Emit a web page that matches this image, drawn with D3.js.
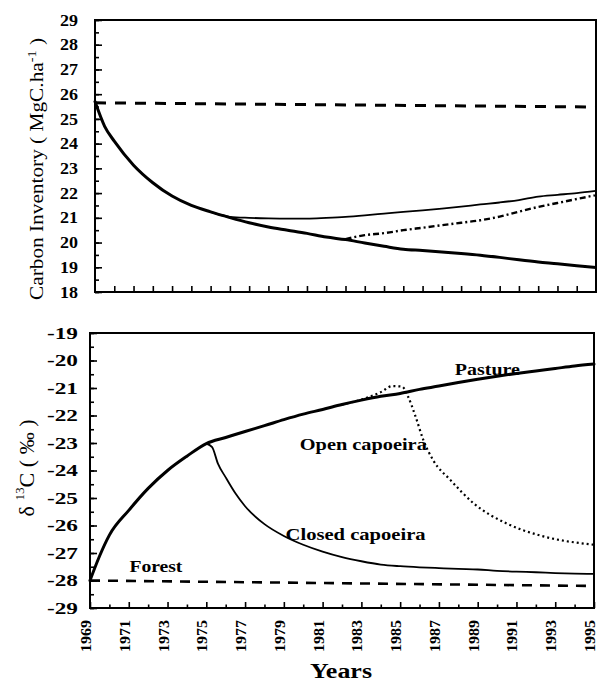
<!DOCTYPE html>
<html><head><meta charset="utf-8">
<script src="https://cdn.jsdelivr.net/npm/d3@7"></script>
<style>
body{margin:0;background:#fff}
svg{display:block}
text{font-family:"Liberation Serif","Times New Roman",serif;fill:#000}
</style>
</head><body>
<svg id="c" width="597" height="684"></svg>
<script>
// ---------- data ----------
const topPastureYears = [1969,1969.5,1970,1971,1972,1973,1974,1975,1976,1977,1978,1979,1980,1981,1982,1983,1984,1985,1986,1987,1988,1989,1990,1991,1992,1993,1994,1995];
const topPasture = [25.7,24.7,24.1,23.13,22.42,21.88,21.5,21.24,21.01,20.8,20.63,20.5,20.37,20.22,20.12,19.98,19.85,19.73,19.68,19.62,19.56,19.49,19.4,19.3,19.21,19.14,19.06,18.99];
const topClosedYears = [1975,1976,1977,1978,1979,1980,1981,1982,1983,1984,1985,1986,1987,1988,1989,1990,1991,1992,1993,1994,1995];
const topClosed = [21.24,21.04,21.0,20.98,20.97,20.97,21.0,21.04,21.1,21.17,21.24,21.3,21.37,21.45,21.54,21.62,21.72,21.86,21.93,22.0,22.09];
const topOpenYears = [1982,1983,1984,1985,1986,1987,1988,1989,1990,1991,1992,1993,1994,1995];
const topOpen = [20.14,20.3,20.38,20.5,20.6,20.7,20.8,20.9,21.05,21.25,21.44,21.6,21.76,21.92];
const topForestYears = [1969,1995];
const topForest = [25.65,25.48];

const botPastureYears = [1969,1969.5,1970,1971,1972,1973,1974,1975,1976,1977,1978,1979,1980,1981,1982,1983,1984,1985,1986,1987,1988,1989,1990,1991,1992,1993,1994,1995];
const botPasture = [-28.0,-27.1,-26.35,-25.45,-24.65,-24.0,-23.48,-23.02,-22.8,-22.58,-22.37,-22.15,-21.95,-21.78,-21.6,-21.44,-21.3,-21.2,-21.05,-20.93,-20.8,-20.68,-20.57,-20.47,-20.38,-20.29,-20.2,-20.13];
const botClosedYears = [1975,1975.3,1975.6,1976,1976.5,1977,1978,1979,1980,1981,1982,1983,1984,1985,1986,1987,1988,1989,1990,1991,1992,1993,1994,1995];
const botClosed = [-23.02,-23.15,-23.75,-24.25,-24.83,-25.3,-25.95,-26.38,-26.7,-26.95,-27.15,-27.3,-27.42,-27.48,-27.52,-27.55,-27.58,-27.6,-27.65,-27.68,-27.7,-27.73,-27.75,-27.76];
const botOpenYears = [1982,1983,1984,1984.6,1985.1,1985.4,1985.8,1986.2,1986.7,1987.6,1988.8,1990.5,1992.2,1995];
const botOpen = [-21.6,-21.42,-21.15,-20.93,-20.95,-21.3,-22.05,-22.9,-23.62,-24.35,-25.2,-25.93,-26.36,-26.7];
const botForestYears = [1969,1995];
const botForest = [-28.0,-28.2];

const topYTicks = [18,19,20,21,22,23,24,25,26,27,28,29];
const botYTicks = [-29,-28,-27,-26,-25,-24,-23,-22,-21,-20,-19];
const xTickLabels = [1969,1971,1973,1975,1977,1979,1981,1983,1985,1987,1989,1991,1993,1995];
const seriesLabels = [
  {text:"Pasture", year:1989.5, value:-20.52, w:65},
  {text:"Open capoeira", year:1983.1, value:-23.25, w:127},
  {text:"Closed capoeira", year:1982.7, value:-26.52, w:140},
  {text:"Forest", year:1972.4, value:-27.7, w:53}
];

// ---------- drawing ----------
const svg = d3.select("#c");
const xTop = d3.scaleLinear().domain([1969,1995]).range([95,596]);
const yTop = d3.scaleLinear().domain([18,29]).range([292,20]);
const xBot = d3.scaleLinear().domain([1969,1995]).range([90,594]);
const yBot = d3.scaleLinear().domain([-29,-19]).range([608,333]);

function zip(xs, ys){ return xs.map((x,i)=>[x,ys[i]]); }
function drawLine(xs, ys, xS, yS, width, dash){
  const line = d3.line().x(d=>xS(d[0])).y(d=>yS(d[1])).curve(d3.curveMonotoneX);
  svg.append("path").datum(zip(xs,ys)).attr("d",line)
    .attr("fill","none").attr("stroke","#000").attr("stroke-width",width)
    .attr("stroke-dasharray",dash||null).attr("stroke-linecap", dash ? "butt" : "round")
    .attr("stroke-linejoin","round");
}
function styleAxis(g){
  g.select(".domain").remove();
  g.selectAll(".tick line").attr("stroke","#000").attr("stroke-width",1.6);
  g.selectAll("text").style("font-weight","bold").style("font-size","16px");
}
const halfRange = (a,b)=>{ const r=[]; for(let v=a; v<=b+1e-9; v+=0.5) r.push(v); return r; };
const yearRange = (a,b)=>{ const r=[]; for(let v=a; v<=b; v++) r.push(v); return r; };

// ---- top panel ----
svg.append("g").attr("transform","translate(95,0)")
  .call(d3.axisLeft(yTop).tickValues(halfRange(18,29)).tickSize(-4).tickFormat(""))
  .call(styleAxis);
svg.append("g").attr("transform","translate(95,0)")
  .call(d3.axisLeft(yTop).tickValues(topYTicks).tickSize(-7).tickPadding(17).tickFormat(d3.format("d")))
  .call(styleAxis)
  .call(g=>g.selectAll("text").attr("textLength",d=>String(d).length*9).attr("lengthAdjust","spacingAndGlyphs"));
svg.append("g").attr("transform","translate(0,292)")
  .call(d3.axisBottom(xTop).tickValues(yearRange(1970,1994)).tickSize(-6).tickFormat(""))
  .call(styleAxis);
svg.append("rect").attr("x",95).attr("y",20).attr("width",501).attr("height",272)
  .attr("fill","none").attr("stroke","#000").attr("stroke-width",2);

drawLine(topForestYears, topForest, xTop, yTop, 3, "11,9");
drawLine(topPastureYears, topPasture, xTop, yTop, 3);
drawLine(topClosedYears, topClosed, xTop, yTop, 1.8);
drawLine(topOpenYears, topOpen, xTop, yTop, 2.4, "6,3,2,3");

// top y title
const t1 = svg.append("text").attr("transform","translate(43,169) rotate(-90)")
  .attr("text-anchor","middle").style("font-size","18px")
  .attr("textLength",262).attr("lengthAdjust","spacingAndGlyphs");
t1.append("tspan").text("Carbon Inventory ( MgC.ha");
t1.append("tspan").attr("dy","-7").style("font-size","12px").text("-1");
t1.append("tspan").attr("dy","7").text(" )");

// ---- bottom panel ----
svg.append("g").attr("transform","translate(90,0)")
  .call(d3.axisLeft(yBot).tickValues(halfRange(-29,-19)).tickSize(-4).tickFormat(""))
  .call(styleAxis);
svg.append("g").attr("transform","translate(90,0)")
  .call(d3.axisLeft(yBot).tickValues(botYTicks).tickSize(-7).tickPadding(12).tickFormat(d=>"-"+Math.abs(d)))
  .call(styleAxis)
  .call(g=>g.selectAll("text").attr("textLength",31).attr("lengthAdjust","spacingAndGlyphs"));
svg.append("g").attr("transform","translate(0,608)")
  .call(d3.axisBottom(xBot).tickValues(yearRange(1970,1994).filter(y=>y%2===0)).tickSize(-3.5).tickFormat(""))
  .call(styleAxis);
const xa = svg.append("g").attr("transform","translate(0,608)")
  .call(d3.axisBottom(xBot).tickValues(xTickLabels).tickSize(-6).tickFormat(d3.format("d")))
  .call(styleAxis);
xa.selectAll(".tick text")
  .attr("y",null).attr("dy",null)
  .attr("transform","translate(-4,12) rotate(-90)")
  .attr("text-anchor","end").attr("dominant-baseline","central")
  .style("font-size","14px")
  .attr("textLength",32).attr("lengthAdjust","spacingAndGlyphs");
svg.append("rect").attr("x",90).attr("y",333).attr("width",504).attr("height",275)
  .attr("fill","none").attr("stroke","#000").attr("stroke-width",2);

drawLine(botForestYears, botForest, xBot, yBot, 2.6, "10,8");
drawLine(botPastureYears, botPasture, xBot, yBot, 3);
drawLine(botClosedYears, botClosed, xBot, yBot, 1.8);
drawLine(botOpenYears, botOpen, xBot, yBot, 2.2, "2,3");

svg.selectAll(".slabel").data(seriesLabels).enter().append("text")
  .attr("class","slabel")
  .attr("x",d=>xBot(d.year)).attr("y",d=>yBot(d.value))
  .attr("text-anchor","middle").style("font-weight","bold").style("font-size","17px")
  .attr("textLength",d=>d.w).attr("lengthAdjust","spacingAndGlyphs")
  .text(d=>d.text);

// bottom y title: δ 13C ( ‰ )
const t2 = svg.append("text").attr("transform","translate(34,468) rotate(-90)")
  .attr("text-anchor","middle").style("font-size","20px")
  .attr("textLength",97).attr("lengthAdjust","spacingAndGlyphs");
t2.append("tspan").text("δ ");
t2.append("tspan").attr("dy","-10").style("font-size","12px").text("13");
t2.append("tspan").attr("dy","10").text("C ( ‰ )");

// x title
svg.append("text").attr("x",341).attr("y",678).attr("text-anchor","middle")
  .style("font-weight","bold").style("font-size","20px")
  .attr("textLength",62).attr("lengthAdjust","spacingAndGlyphs").text("Years");
</script>
</body></html>
